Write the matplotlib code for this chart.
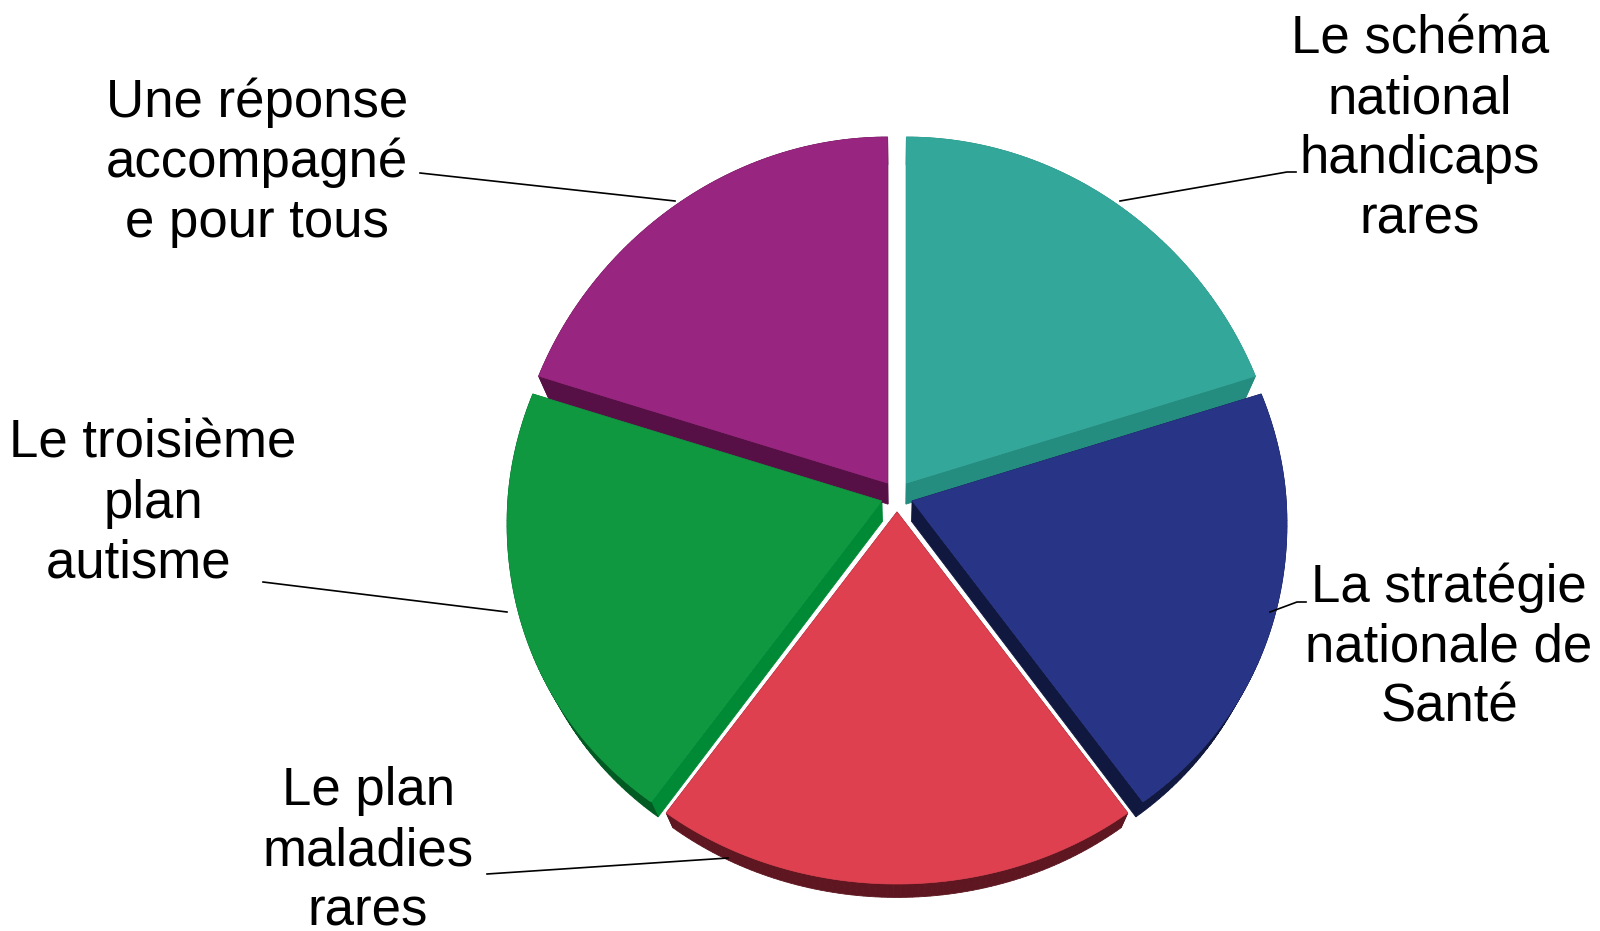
import numpy as np
import matplotlib.pyplot as plt
from matplotlib.patches import Polygon

# Plans et schémas : parts égales
labels = [
    ["Le schéma", "national", "handicaps", "rares"],
    ["La stratégie", "nationale de", "Santé"],
    ["Le plan", "maladies", "rares"],
    ["Le troisième", "plan", "autisme  "],
    ["Une réponse", "accompagné", "e pour tous"],
]
shares = [20, 20, 20, 20, 20]

top_colors = ["#33A79A", "#283587", "#DE404F", "#0F9840", "#98257F"]
edge_colors = ["#258D80", "#101840", "#5E1620", "#008A35", "#561045"]
rim_colors = ["#258D80", "#101840", "#5E1620", "#005A22", "#561045"]

# label anchors (pixel coords, y down), first baseline, leader polyline
label_pos = [
    (1420, 53, [(1120, 201), (1287, 172), (1296, 172)]),
    (1449, 602, [(1270, 612), (1297, 602), (1306, 602)]),
    (368, 805, [(728, 858), (487, 874)]),
    (153, 458, [(507, 612), (263, 582)]),
    (257, 117, [(675, 201), (420, 173)]),
]

CX, CY = 897, 496
RX = 374
RY_TOP, RY_BOT = 346, 372
EXPLODE = 16
LINE_H = 60


def rim_point(t, ox, oy):
    s = np.sin(t)
    rx = RX - 23 * s
    ry = RY_TOP if s > 0 else RY_BOT
    return CX + ox + rx * np.cos(t), CY + oy - ry * s


def drop(p):
    # where a top-face point lands on the bottom face
    x, y = p
    return x - 0.029 * (x - CX), y + 23 - 0.019 * (y - 380)


fig = plt.figure(figsize=(16, 9.31), dpi=100)
ax = fig.add_axes([0, 0, 1, 1])
ax.set_xlim(0, 1600)
ax.set_ylim(931, 0)
ax.axis("off")

total = sum(shares)
start = 90.0
faces = []
for i, v in enumerate(shares):
    sweep = 360.0 * v / total
    a1, a2 = start, start - sweep
    start = a2
    mid = np.radians((a1 + a2) / 2)
    ox, oy = EXPLODE * np.cos(mid), -EXPLODE * np.sin(mid)
    apex = (CX + ox, CY + oy)
    ts = np.radians(np.linspace(a1, a2, 80))
    arc = [rim_point(t, ox, oy) for t in ts]
    faces.append((i, apex, arc))

# side walls first, back to front
for i, apex, arc in faces:
    pts = [apex] + arc + [apex]
    for k in range(len(pts) - 1):
        p, q = pts[k], pts[k + 1]
        radial = k == 0 or k == len(pts) - 2
        c = edge_colors[i] if radial else rim_colors[i]
        quad = [p, q, drop(q), drop(p)]
        ax.add_patch(Polygon(quad, closed=True, facecolor=c, edgecolor=c, lw=0.6))

# top faces
for i, apex, arc in faces:
    ax.add_patch(Polygon([apex] + arc, closed=True, facecolor=top_colors[i],
                         edgecolor=top_colors[i], lw=0.5))

# labels and leader lines
for lines, (x, y0, leader) in zip(labels, label_pos):
    for j, line in enumerate(lines):
        ax.text(x, y0 + j * LINE_H, line, ha="center", va="baseline",
                fontsize=38, family="Liberation Sans", color="black")
    lx, ly = zip(*leader)
    ax.plot(lx, ly, color="black", lw=1.2)

fig.savefig("out.png", dpi=100, facecolor="white")
